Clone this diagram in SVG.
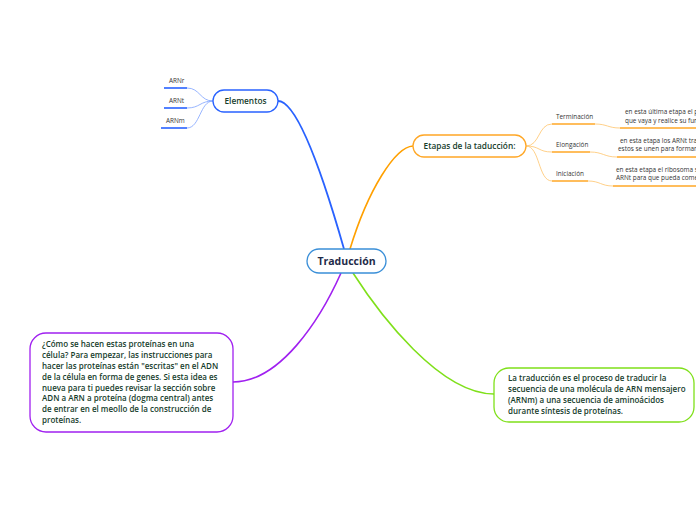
<svg xmlns="http://www.w3.org/2000/svg" width="696" height="520" viewBox="0 0 696 520">
<style>
.t{font-family:"Open Sans","Noto Sans",sans-serif;}
.nt{font-size:8.3px;fill:#163d2c;font-weight:600;}
.lt{font-size:6.4px;fill:#333333;}
.bt{font-size:8px;fill:#163d2c;font-weight:600;}
.node{fill:#ffffff;stroke-width:1.3;}
.conn{fill:none;}
</style>
<rect width="696" height="520" fill="#ffffff"/>
<g id="connectors" class="conn">
  <path d="M278,101 C300,101 330,200 344,249" stroke="#2962ff" stroke-width="1.8"/>
  <path d="M350,249 C368,190 395,147 413,146" stroke="#ffa000" stroke-width="1.6"/>
  <path d="M341,273 C320,320 280,382 233,382" stroke="#a020f0" stroke-width="1.6"/>
  <path d="M353,273 C380,315 440,394 494,394" stroke="#7fe01a" stroke-width="1.6"/>
  <g stroke="#7ea2ff" stroke-width="0.8">
    <path d="M213,101 C200,101 200,88 187,88"/>
    <path d="M213,101 C200,101 200,108 187,108"/>
    <path d="M213,101 C200,101 200,128 187,128"/>
  </g>
  <g stroke="#2962ff" stroke-width="1.6">
    <path d="M164,88 H187"/>
    <path d="M164,108 H187"/>
    <path d="M161,128 H187"/>
  </g>
  <g stroke="#ffc46b" stroke-width="0.8">
    <path d="M526,146 C540,146 538,124 552,124"/>
    <path d="M526,146 C540,146 538,152 552,152"/>
    <path d="M526,146 C540,146 538,181 552,181"/>
    <path d="M595,124 C607,124 608,128 620,128"/>
    <path d="M590,152 C603,152 604,157 617,157"/>
    <path d="M588,181 C600,181 601,186 613,186"/>
  </g>
  <g stroke="#ffa726" stroke-width="1.6">
    <path d="M552,124 H595"/>
    <path d="M552,152 H590"/>
    <path d="M552,181 H588"/>
    <path d="M620,128 H696"/>
    <path d="M617,157 H696"/>
    <path d="M613,186 H696"/>
  </g>
</g>
<g id="n-traduccion">
  <rect x="307" y="249" width="79" height="24" rx="12" class="node" stroke="#3a8fd8"/>
  <text x="346.5" y="265" text-anchor="middle" class="t" font-size="10.5" font-weight="700" fill="#1f2b4a">Traducción</text>
</g>
<g id="n-elementos">
  <rect x="213" y="90" width="65" height="22" rx="11" class="node" stroke="#2962ff"/>
  <text x="245.5" y="104" text-anchor="middle" class="t nt">Elementos</text>
</g>
<g id="l-arnr"><text x="169" y="83" class="t lt">ARNr</text></g>
<g id="l-arnt"><text x="169" y="103" class="t lt">ARNt</text></g>
<g id="l-arnm"><text x="166" y="123" class="t lt">ARNm</text></g>
<g id="n-etapas">
  <rect x="413" y="135" width="113" height="22" rx="11" class="node" stroke="#ffa726"/>
  <text x="469.5" y="149" text-anchor="middle" class="t nt">Etapas de la taducción:</text>
</g>
<g id="l-terminacion"><text x="556" y="119" class="t lt">Terminación</text></g>
<g id="l-elongacion"><text x="556" y="147" class="t lt">Elongación</text></g>
<g id="l-iniciacion"><text x="556" y="176" class="t lt">Iniciación</text></g>
<g id="d-terminacion">
  <text x="625" y="114" class="t lt">en esta última etapa el po</text>
  <text x="625" y="123" class="t lt">que vaya y realice su func</text>
</g>
<g id="d-elongacion">
  <text x="620" y="143" class="t lt">en esta etapa los ARNt trae</text>
  <text x="618" y="151" class="t lt">estos se unen para formar</text>
</g>
<g id="d-iniciacion">
  <text x="616" y="172" class="t lt">en esta etapa el ribosoma se</text>
  <text x="616" y="180" class="t lt">ARNt para que pueda comen</text>
</g>
<g id="n-como">
  <rect x="30" y="333" width="203" height="99" rx="16" class="node" stroke="#a020f0"/>
  <text class="t bt">
    <tspan x="42" y="347">¿Cómo se hacen estas proteínas en una</tspan>
    <tspan x="42" y="358">célula? Para empezar, las instrucciones para</tspan>
    <tspan x="42" y="369">hacer las proteínas están "escritas" en el ADN</tspan>
    <tspan x="42" y="380">de la célula en forma de genes. Si esta idea es</tspan>
    <tspan x="42" y="391">nueva para ti puedes revisar la sección sobre</tspan>
    <tspan x="42" y="401">ADN a ARN a proteína (dogma central) antes</tspan>
    <tspan x="42" y="412">de entrar en el meollo de la construcción de</tspan>
    <tspan x="42" y="423">proteínas.</tspan>
  </text>
</g>
<g id="n-definicion">
  <rect x="494" y="368" width="200" height="54" rx="15" class="node" stroke="#7fe01a"/>
  <text class="t bt">
    <tspan x="508" y="381">La traducción es el proceso de traducir la</tspan>
    <tspan x="508" y="392">secuencia de una molécula de ARN mensajero</tspan>
    <tspan x="508" y="403">(ARNm) a una secuencia de aminoácidos</tspan>
    <tspan x="508" y="414">durante síntesis de proteínas.</tspan>
  </text>
</g>
</svg>
